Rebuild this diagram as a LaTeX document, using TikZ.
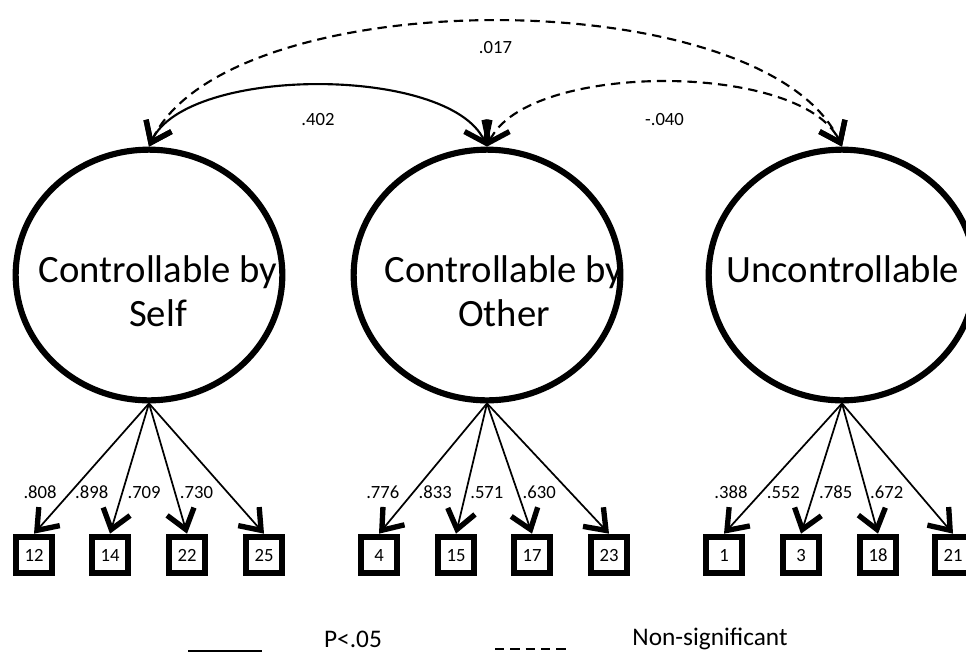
\documentclass[tikz,border=0pt]{standalone}
\usepackage{fontspec}
\setmainfont{Carlito}
\usetikzlibrary{arrows.meta,shapes.geometric}

\begin{document}
\begin{tikzpicture}[x=0.75pt, y=-0.75pt,
  factor/.style={draw, ellipse, line width=4.6pt, minimum width=200pt,
    minimum height=188pt, inner sep=0pt},
  factorname/.style={font=\fontsize{29}{33}\selectfont, align=center, inner sep=0pt},
  item/.style={draw, rectangle, line width=5pt, minimum size=27pt,
    inner sep=0pt, text height=10pt, text depth=0pt,
    font=\fontsize{14}{16}\selectfont},
  barb/.tip={Straight Barb[length=14pt, width=21pt, line width=4pt]},
  load/.style={line width=1.3pt, -barb},
  cov/.style={line width=1.6pt, barb-barb},
  coef/.style={font=\fontsize{14}{16}\selectfont, inner sep=1pt,
    text height=10pt, text depth=0pt},
  nonsig/.style={dash pattern=on 7pt off 4.5pt}
]
  \useasboundingbox (0, 0) rectangle (966, 654);

  % factors
  \node[factor] (self) at (149, 275) {};
  \node[factorname] (selfname) at (158, 291) {Controllable by\\Self};

  \node[factor] (other) at (487, 275) {};
  \node[factorname] (othername) at (504, 291) {Controllable by\\Other};

  \node[factor] (unc) at (842, 275) {};
  \node[factorname] (uncname) at (843, 269) {Uncontrollable};

  % items
  \node[item] (i12) at (34, 555) {12};
  \node[item] (i14) at (110, 555) {14};
  \node[item] (i22) at (187, 555) {22};
  \node[item] (i25) at (264, 555) {25};

  \node[item] (i4) at (379, 555) {4};
  \node[item] (i15) at (456, 555) {15};
  \node[item] (i17) at (532, 555) {17};
  \node[item] (i23) at (609, 555) {23};

  \node[item] (i1) at (724, 555) {1};
  \node[item] (i3) at (801, 555) {3};
  \node[item] (i18) at (878, 555) {18};
  \node[item] (i21) at (953, 555) {21};

  % loadings
  \draw[load] (self.south) -- node[coef, pos=0.68, left=9pt]{.808} (i12.north);
  \draw[load] (self.south) -- node[coef, pos=0.68, left=9pt]{.898} (i14.north);
  \draw[load] (self.south) -- node[coef, pos=0.68, left=9pt]{.709} (i22.north);
  \draw[load] (self.south) -- node[coef, pos=0.68, left=9pt]{.730} (i25.north);

  \draw[load] (other.south) -- node[coef, pos=0.68, left=9pt]{.776} (i4.north);
  \draw[load] (other.south) -- node[coef, pos=0.68, left=9pt]{.833} (i15.north);
  \draw[load] (other.south) -- node[coef, pos=0.68, left=9pt]{.571} (i17.north);
  \draw[load] (other.south) -- node[coef, pos=0.68, left=9pt]{.630} (i23.north);

  \draw[load] (unc.south) -- node[coef, pos=0.68, left=9pt]{.388} (i1.north);
  \draw[load] (unc.south) -- node[coef, pos=0.68, left=9pt]{.552} (i3.north);
  \draw[load] (unc.south) -- node[coef, pos=0.68, left=9pt]{.785} (i18.north);
  \draw[load] (unc.south) -- node[coef, pos=0.68, left=9pt]{.672} (i21.north);

  % covariances
  \draw[cov] (self.north) to[out=65, in=115, looseness=0.68]
    node[coef, midway, below=18pt]{.402} (other.north);
  \draw[cov, nonsig] (other.north) to[out=65, in=115, looseness=0.68]
    node[coef, midway, below=20pt]{-.040} (unc.north);
  \draw[cov, nonsig] (self.north) to[out=65, in=115, looseness=0.68]
    node[coef, midway, below=12pt]{.017} (unc.north);

  % legend
  \coordinate (sigA) at (188, 651);
  \coordinate (sigB) at (262, 651);
  \draw[line width=2pt] (sigA) -- (sigB);
  \node[font=\fontsize{19}{22}\selectfont] (sigtext) at (353, 639) {P<.05};

  \coordinate (nsA) at (495, 649);
  \coordinate (nsB) at (570, 649);
  \draw[line width=2pt, nonsig] (nsA) -- (nsB);
  \node[font=\fontsize{19}{22}\selectfont] (nstext) at (710, 639) {Non-significant};
\end{tikzpicture}
\end{document}
